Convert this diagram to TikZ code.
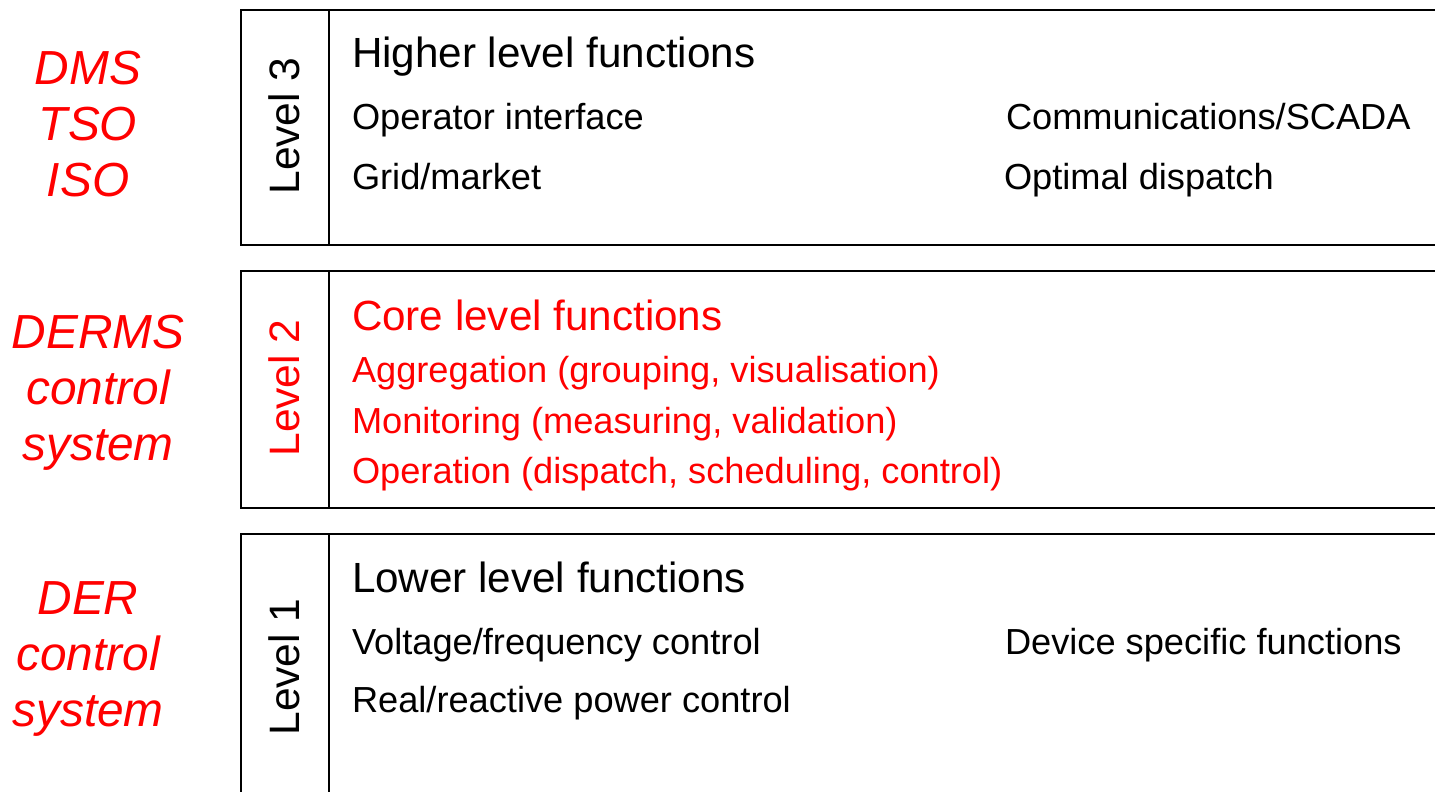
\documentclass[tikz,border=0pt]{standalone}
\usepackage{fontspec}
\setmainfont{Liberation Sans}
\usetikzlibrary{positioning}
\tikzset{inner sep=0pt, outer sep=0pt}
\tikzstyle{levelbox} = [draw, line width=0.6pt]
\tikzstyle{actor} = [text=red, align=center, font=\fontsize{13.6}{15.9}\selectfont\itshape]
\tikzstyle{levelname} = [rotate=90, anchor=base, font=\fontsize{12.1}{14}\selectfont]
\tikzstyle{heading} = [anchor=base west, font=\fontsize{12}{14}\selectfont]
\tikzstyle{entry} = [anchor=base west, font=\fontsize{10.3}{12}\selectfont]

\begin{document}
\begin{tikzpicture}[x=0.01cm, y=-0.01cm]
		\path [use as bounding box] (0,0) rectangle (1435,792);
		\clip (0,0) rectangle (1435,792);

		% frames of the three levels
		\draw [levelbox] (241,10) rectangle (1450,245);
		\draw [levelbox] (329,10) -- (329,245);
		\draw [levelbox] (241,271) rectangle (1450,508);
		\draw [levelbox] (329,271) -- (329,508);
		\draw [levelbox] (241,534) rectangle (1450,810);
		\draw [levelbox] (329,534) -- (329,810);

		% level 3
		\node [actor] (actor_3) at (88,124) {DMS\\TSO\\ISO};
		\node [levelname] (level_3) at (299,126) {Level 3};
		\node [heading] (head_3) at (352,68) {Higher level functions};
		\node [entry] (op_if) at (352,130) {Operator interface};
		\node [entry] (grid) at (352,190) {Grid/market};
		\node [entry] (comm) at (1006,130) {Communications/SCADA};
		\node [entry] (dispatch) at (1004,190) {Optimal dispatch};

		% level 2
		\node [actor] (actor_2) at (98,393) {DERMS\\control\\system};
		\node [levelname, text=red] (level_2) at (299,388) {Level 2};
		\node [heading, text=red] (head_2) at (352,331) {Core level functions};
		\node [entry, text=red] (aggr) at (352,383) {Aggregation (grouping, visualisation)};
		\node [entry, text=red] (monit) at (352,434) {Monitoring (measuring, validation)};
		\node [entry, text=red] (oper) at (352,484) {Operation (dispatch, scheduling, control)};

		% level 1
		\node [actor] (actor_1) at (88,659) {DER\\control\\system};
		\node [levelname] (level_1) at (299,667) {Level 1};
		\node [heading] (head_1) at (352,593) {Lower level functions};
		\node [entry] (vf_ctrl) at (352,655) {Voltage/frequency control};
		\node [entry] (pq_ctrl) at (352,713) {Real/reactive power control};
		\node [entry] (device) at (1005,655) {Device specific functions};
	\end{tikzpicture}
\end{document}
